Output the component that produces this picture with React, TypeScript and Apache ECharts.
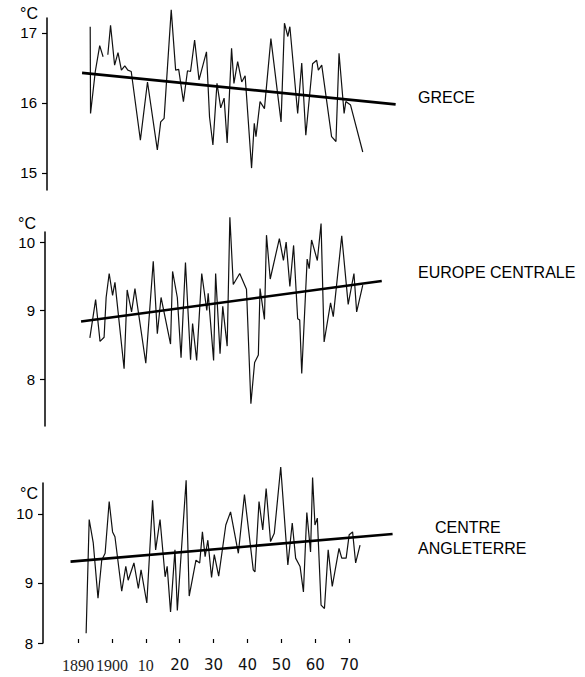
import React, { useEffect, useRef } from "react";
import * as echarts from "echarts";

// ---- Data (years, °C) ----
const greeceYears = [1893.6, 1893.7, 1895.1, 1896.4, 1897.4, 1898.1, 1898.8, 1899.6, 1900.8, 1901.8, 1902.8, 1903.8, 1904.7, 1905.7, 1908.4, 1910.5, 1913.4, 1914.4, 1915.4, 1917.5, 1918.8, 1919.7, 1921.1, 1922.3, 1923.2, 1924.4, 1925.7, 1927.9, 1928.8, 1929.8, 1931, 1932.1, 1933.1, 1934, 1935.3, 1936, 1937.1, 1938.3, 1939.3, 1941.2, 1942, 1942.5, 1943.7, 1945, 1946.9, 1949.9, 1950.9, 1951.9, 1952.5, 1954.8, 1956, 1957.2, 1959.2, 1960.4, 1960.9, 1961.9, 1964.8, 1966.1, 1967, 1968.5, 1969, 1970.4, 1974];
const greeceTemps = [17.09, 15.85, 16.45, 16.82, 16.66, null, 16.69, 17.11, 16.54, 16.72, 16.47, 16.53, 16.47, 16.45, 15.47, 16.3, 15.33, 15.73, 15.78, 17.33, 16.47, 16.48, 16.02, 16.46, 16.45, 16.9, 16.33, 16.73, 15.8, 15.4, 16.28, 15.93, 16.07, 15.43, 16.78, 16.28, 16.59, 16.3, 16.39, 15.07, 15.71, 15.52, 16.02, 15.92, 16.92, 15.73, 17.14, 16.95, 17.09, 15.85, 16.57, 15.54, 16.56, 16.61, 16.47, 16.54, 15.52, 15.45, 16.71, 15.85, 16.02, 15.97, 15.3];
const greeceTrendYears = [1891.2, 1983.7];
const greeceTrendTemps = [16.43, 15.98];

const europeYears = [1893.5, 1895.2, 1896.5, 1897.7, 1898.3, 1899.2, 1900.2, 1900.9, 1903.6, 1904.5, 1905.8, 1906.8, 1910, 1912.2, 1913.4, 1914.5, 1917.3, 1917.9, 1919.3, 1920.4, 1921.7, 1923.2, 1923.8, 1925, 1926.5, 1928, 1928.4, 1930, 1930.6, 1931.9, 1932.7, 1934, 1934.8, 1935.8, 1937.7, 1939.7, 1941, 1942.1, 1943.2, 1943.7, 1945, 1945.6, 1946.7, 1949.4, 1950.6, 1951.4, 1952.5, 1953.6, 1954.8, 1955.4, 1956, 1957.6, 1958.2, 1958.9, 1960.6, 1961.7, 1962.6, 1964.5, 1965.3, 1967.8, 1969.7, 1971.4, 1972.2, 1974];
const europeTemps = [8.6, 9.16, 8.55, 8.61, 9.19, 9.54, 9.22, 9.41, 8.15, 9.3, 8.98, 9.32, 8.23, 9.72, 8.66, 9.19, 8.51, 9.57, 9.19, 8.31, 9.7, 8.28, 8.81, 8.27, 9.54, 9.0, 9.25, 8.27, 9.54, 8.37, 9.06, 8.48, 10.36, 9.38, 9.54, 9.31, 7.64, 8.24, 8.35, 9.32, 8.87, 10.1, 9.46, 10.05, 9.73, 10.0, 9.35, 9.95, 8.88, 8.86, 8.08, 9.75, 9.61, 10.03, 9.73, 10.27, 8.54, 9.11, 8.91, 10.09, 9.09, 9.54, 8.98, 9.37];
const europeTrendYears = [1890.9, 1979.6];
const europeTrendTemps = [8.84, 9.43];

const englandYears = [1892.4, 1893.3, 1894.5, 1895.9, 1897, 1898, 1899.2, 1900.2, 1900.9, 1902.9, 1904.1, 1904.8, 1906.5, 1907.8, 1908.6, 1910.3, 1912, 1912.9, 1914.2, 1915.7, 1916.3, 1917.3, 1918.6, 1919.3, 1921.9, 1922.8, 1924.8, 1925.9, 1926.7, 1927.5, 1928.3, 1929.4, 1930.2, 1931.5, 1933.6, 1935, 1937.3, 1939.1, 1941.7, 1942.2, 1943.4, 1944.5, 1945.5, 1946.8, 1947.9, 1949.8, 1951.9, 1953.2, 1954.2, 1955.5, 1956.5, 1957.5, 1958.6, 1959.2, 1959.9, 1960.6, 1961.7, 1962.7, 1963.8, 1965, 1967, 1967.8, 1969.1, 1970, 1971, 1971.9, 1973.2];
const englandTemps = [8.27, 9.92, 9.58, 8.78, 9.33, 9.43, 10.18, 9.74, 9.67, 8.88, 9.24, 9.04, 9.29, 8.92, 9.19, 8.71, 10.2, 9.48, 9.92, 9.09, 9.24, 8.58, 9.48, 8.6, 10.49, 8.81, 9.33, 9.29, 9.74, 9.38, 9.62, 9.08, 9.41, 9.1, 9.84, 10.03, 9.43, 10.28, 9.19, 9.16, 10.18, 9.77, 10.37, 9.6, 9.72, 10.68, 9.26, 9.87, 9.36, 9.24, 8.87, 10.02, 9.45, 10.53, 9.84, 9.94, 8.68, 8.63, 9.48, 8.95, 9.5, 9.36, 9.36, 9.7, 9.74, 9.29, 9.55];
const englandTrendYears = [1887.8, 1982.8];
const englandTrendTemps = [9.31, 9.71];

const xTickYears = [1890, 1900, 1910, 1920, 1930, 1940, 1950, 1960, 1970];
const xTickLabels = ["1890", "1900", "10", "20", "30", "40", "50", "60", "70"];
const greeceTicks = [15, 16, 17];
const europeTicks = [8, 9, 10];
const englandTicks = [8, 9, 10];
const panelNames = ["GRECE", "EUROPE CENTRALE", "CENTRE", "ANGLETERRE"];

const pairs = (xs: number[], ys: (number | null)[]) =>
  xs.map((x, i) => [x, ys[i] === null ? "-" : ys[i]]);

export default function App() {
  const ref = useRef<HTMLDivElement>(null);
  useEffect(() => {
    if (!ref.current) return;
    const chart = echarts.init(ref.current, undefined, { renderer: "svg" });
    const pxPerYear = 3.39;
    const x1890 = 78;
    const rightPx = 417;
    const xMax = 1890 + (rightPx - x1890) / pxPerYear;
    const lefts = [47, 45, 43];
    const grids = [
      { left: 47, top: 18, width: rightPx - 47, height: 172 },
      { left: 45, top: 232, width: rightPx - 45, height: 194 },
      { left: 43, top: 483, width: rightPx - 43, height: 160 },
    ];
    const yRanges = [
      [14.757, 17.214],
      [7.314, 10.146],
      [8.13, 10.449],
    ];
    const yTicks = [
      greeceTicks,
      europeTicks,
      englandTicks.map((v) => Math.max(v, yRanges[2][0])),
    ];
    const labelFont = "Liberation Sans";
    const xAxis = lefts.map((l, i) => ({
      type: "value",
      gridIndex: i,
      min: 1890 - (x1890 - l) / pxPerYear,
      max: xMax,
      show: i === 2,
      axisLine: { show: false },
      splitLine: { show: false },
      axisTick: {
        show: i === 2,
        inside: true,
        length: 4,
        customValues: xTickYears,
        lineStyle: { color: "#000", width: 1.2 },
      },
      axisLabel: {
        show: i === 2,
        customValues: xTickYears,
        margin: 14,
        hideOverlap: false,
        formatter: (v: number) => {
          const k = xTickYears.indexOf(Math.round(v));
          const t = k >= 0 ? xTickLabels[k] : "";
          return Math.round(v) <= 1910 ? `{serif|${t}}` : `{sans|${t}}`;
        },
        rich: {
          serif: { fontFamily: "Liberation Serif", fontSize: 16, color: "#222" },
          sans: { fontFamily: "DejaVu Sans", fontSize: 15, color: "#111" },
        },
      },
    }));
    const yAxis = yRanges.map((r, i) => ({
      type: "value",
      gridIndex: i,
      min: r[0],
      max: r[1],
      axisLine: { show: true, lineStyle: { color: "#000", width: 1.5 } },
      splitLine: { show: false },
      axisTick: {
        show: true,
        length: 5,
        customValues: yTicks[i],
        lineStyle: { color: "#000", width: 1.2 },
      },
      axisLabel: {
        customValues: yTicks[i],
        formatter: (v: number) => String(Math.round(v)),
        margin: 10,
        fontFamily: labelFont,
        fontSize: 15,
        color: "#000",
      },
    }));
    const dataSets = [
      [greeceYears, greeceTemps, greeceTrendYears, greeceTrendTemps],
      [europeYears, europeTemps, europeTrendYears, europeTrendTemps],
      [englandYears, englandTemps, englandTrendYears, englandTrendTemps],
    ] as const;
    const series: any[] = [];
    dataSets.forEach((d, i) => {
      series.push({
        type: "line",
        xAxisIndex: i,
        yAxisIndex: i,
        data: pairs(d[0] as number[], d[1] as (number | null)[]),
        symbol: "none",
        clip: false,
        connectNulls: false,
        lineStyle: { color: "#111", width: 1.2 },
        z: 2,
      });
      series.push({
        type: "line",
        xAxisIndex: i,
        yAxisIndex: i,
        data: pairs(d[2] as number[], d[3] as number[]),
        symbol: "none",
        clip: false,
        lineStyle: { color: "#000", width: 2.6 },
        z: 3,
      });
    });
    const txt = (text: string, x: number, y: number, align = "left", size = 16) => ({
      type: "text",
      x,
      y,
      style: {
        text,
        fontFamily: labelFont,
        fontSize: size,
        fill: "#000",
        align,
        verticalAlign: "middle",
      },
    });
    chart.setOption({
      animation: false,
      backgroundColor: "#fff",
      grid: grids,
      xAxis,
      yAxis,
      series,
      graphic: [
        txt("°C", 38, 13, "right"),
        txt("°C", 36, 223, "right"),
        txt("°C", 38, 493, "right"),
        txt(panelNames[0], 418, 97.5),
        txt(panelNames[1], 418, 272),
        txt(panelNames[2], 435, 527),
        txt(panelNames[3], 418, 548.5),
      ],
    });
    return () => chart.dispose();
  }, []);
  return (
    <div
      ref={ref}
      style={{ position: "fixed", left: 0, top: 0, width: 585, height: 677, background: "#fff" }}
    />
  );
}
